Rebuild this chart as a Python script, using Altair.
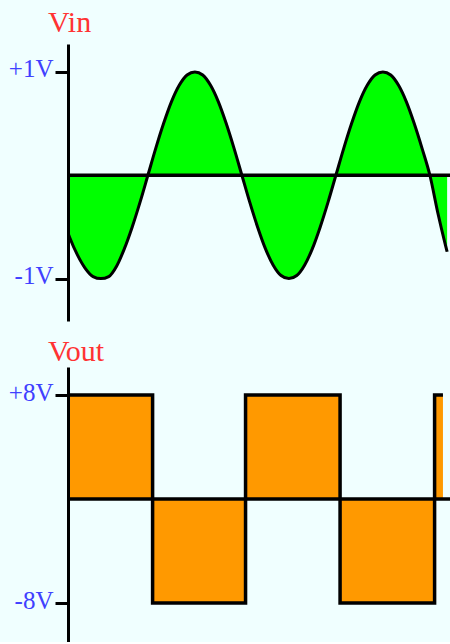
import altair as alt
import pandas as pd

# Vin: phase of the input (degrees) and the sampled input voltage
vin_phase = [-153, -150, -135, -120, -105, -90, -75, -60, -45, -30, -15,
             0, 15, 30, 45, 60, 75, 90, 105, 120, 135, 150, 165,
             180, 195, 210, 225, 240, 255, 270, 285, 300, 315, 330, 345,
             360, 375, 390, 405, 420, 435, 450, 465, 480, 495, 510, 525,
             540, 555, 570, 573]
vin_volts = [-0.56, -0.60, -0.77, -0.90, -0.98, -1.00, -0.98, -0.88, -0.71, -0.50, -0.26,
             0.00, 0.26, 0.50, 0.71, 0.87, 0.97, 1.00, 0.97, 0.87, 0.71, 0.50, 0.26,
             0.00, -0.26, -0.50, -0.71, -0.87, -0.97, -1.00, -0.97, -0.87, -0.71, -0.50, -0.26,
             0.00, 0.26, 0.50, 0.71, 0.87, 0.97, 1.00, 0.97, 0.87, 0.71, 0.50, 0.26,
             0.00, -0.36, -0.68, -0.74]

# Vout: switching instants (degrees) and the output level held after each one
vout_phase = [-153, 9, 187, 368, 549, 565]
vout_volts = [8, -8, 8, -8, 8, 8]

vin_ticks = [1, -1]
vout_ticks = [8, -8]

PANEL_W = 382
SERIF = "Liberation Serif"

phase_x = alt.X("phase:Q", scale=alt.Scale(domain=[-153, 578.5], nice=False, zero=False), axis=None)


def volt_axis(ticks):
    return alt.Axis(
        values=ticks,
        labelExpr="(datum.value > 0 ? '+' : '') + datum.value + 'V'",
        title=None, grid=False, zindex=2,
        domainColor="black", domainWidth=3,
        tickColor="black", tickWidth=3, tickSize=13,
        labelPadding=2, labelFont=SERIF, labelFontSize=25, labelColor="#4040ff",
        labelBaseline="middle", labelOffset=-3, labelFlush=False, labelOverlap=False,
        minExtent=68,
    )


def panel_title(text, offset):
    return alt.TitleParams(text, anchor="start", frame="group", dx=-20, font=SERIF, fontSize=30,
                           fontWeight="normal", color="#ff3333",
                           baseline="alphabetic", offset=offset)


zero_df = pd.DataFrame({"level": [0]})

# Input sine wave, filled to the zero line
vin_df = pd.DataFrame({"phase": vin_phase, "volts": vin_volts})
vin_y = alt.Y("volts:Q", scale=alt.Scale(domain=[-1.41, 1.27], nice=False, zero=False),
              axis=volt_axis(vin_ticks))
vin_area = alt.Chart(vin_df).mark_area(color="#00ff00", interpolate="monotone", clip=True).encode(
    x=phase_x, y=vin_y, y2=alt.datum(0))
vin_zero = alt.Chart(zero_df).mark_rule(color="black", strokeWidth=3.5, clip=True).encode(y=alt.datum(0))
vin_line = alt.Chart(vin_df).mark_line(color="black", strokeWidth=3, interpolate="monotone", clip=True).encode(
    x=phase_x, y=vin_y)
top = alt.layer(vin_area, vin_zero, vin_line).properties(
    width=PANEL_W, height=277, title=panel_title("Vin", -18))

# Output square wave, filled to the zero line
vout_df = pd.DataFrame({"phase": vout_phase, "volts": vout_volts})
vout_y = alt.Y("volts:Q", scale=alt.Scale(domain=[-11.0, 10.154], nice=False, zero=False),
               axis=volt_axis(vout_ticks))
vout_area = alt.Chart(vout_df).mark_area(color="#ff9900", interpolate="step-after", clip=True).encode(
    x=phase_x, y=vout_y, y2=alt.datum(0))
vout_zero = alt.Chart(zero_df).mark_rule(color="black", strokeWidth=3.5, clip=True).encode(y=alt.datum(0))
vout_line = alt.Chart(vout_df).mark_line(color="black", strokeWidth=3.5, interpolate="step-after",
                                         strokeJoin="miter", strokeCap="butt", clip=True).encode(
    x=phase_x, y=vout_y)
bottom = alt.layer(vout_area, vout_zero, vout_line).properties(
    width=PANEL_W, height=275, title=panel_title("Vout", -24))

chart = alt.vconcat(top, bottom, spacing=46, bounds="flush").properties(
    padding={"left": 0, "top": 8, "right": 0, "bottom": 0}
).configure(background="#f0ffff").configure_view(strokeWidth=0)

chart.save("out.html", embed_options={"renderer": "svg", "actions": False})
